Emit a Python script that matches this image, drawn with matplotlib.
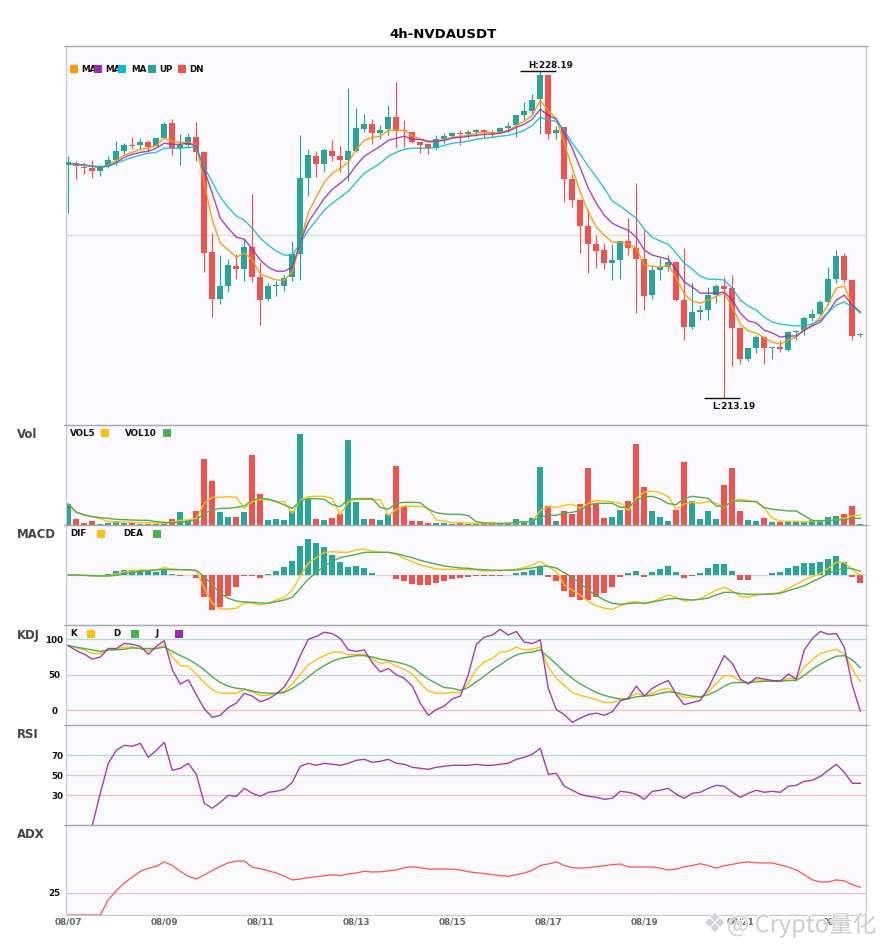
import matplotlib
matplotlib.use("Agg")
import matplotlib.pyplot as plt
import matplotlib.patheffects as pe
from matplotlib.patches import Rectangle
import numpy as np

title = "4h-NVDAUSDT"
date_labels = ["08/07","08/09","08/11","08/13","08/15","08/17","08/19","08/21","08/23"]

opens = [223.88,223.97,223.80,223.74,223.60,223.83,224.11,224.52,224.79,224.79,224.93,224.75,225.12,225.80,224.66,224.79,225.16,224.47,219.88,217.73,
218.32,219.24,219.10,220.11,218.74,217.73,218.32,218.32,218.74,219.79,223.28,224.29,223.92,224.52,224.29,224.11,224.52,225.53,225.76,225.35,
225.53,226.08,225.48,225.39,224.93,224.84,224.66,225.07,225.21,225.35,225.30,225.39,225.48,225.39,225.39,225.57,225.71,226.17,226.36,226.91,
228.01,225.35,225.62,223.23,222.27,221.08,220.25,219.98,219.38,219.52,220.39,220.07,219.56,217.91,219.06,219.19,219.42,217.68,216.44,217.13,
217.22,217.91,218.32,218.23,216.40,214.97,215.48,215.98,215.48,215.52,215.39,216.21,216.30,216.85,217.04,217.59,218.64,219.70,218.60,216.07]
closes = [224.01,223.83,223.77,223.60,223.74,224.11,224.52,224.79,224.75,224.93,224.70,225.12,225.76,224.66,224.79,225.16,224.47,219.84,217.73,218.32,
219.29,219.10,220.11,218.74,217.68,218.32,218.37,218.69,219.79,223.28,224.34,223.92,224.57,224.29,224.11,224.52,225.57,225.76,225.35,225.48,
226.08,225.48,225.44,224.93,224.79,224.66,225.07,225.21,225.35,225.30,225.39,225.48,225.39,225.35,225.57,225.67,226.17,226.36,226.86,228.01,
225.30,225.48,223.23,222.27,221.08,220.25,219.93,219.38,219.52,220.39,220.07,219.56,217.86,219.06,219.19,219.42,217.68,216.44,217.13,217.22,
217.91,218.32,218.18,216.40,214.97,215.48,215.98,215.48,215.52,215.43,216.21,216.26,216.85,217.04,217.59,218.64,219.70,218.60,216.03,216.12]
highs = [224.29,224.06,224.03,224.11,223.86,224.29,224.98,224.89,225.16,225.12,225.02,225.12,225.85,225.99,225.30,225.35,225.85,224.47,220.76,219.75,
219.56,219.79,220.48,222.55,219.42,218.46,218.55,218.83,220.39,225.25,224.61,224.52,224.66,225.02,224.75,227.41,226.49,226.22,225.99,225.71,
226.63,227.69,225.94,225.39,224.93,224.84,225.25,225.35,225.39,225.48,225.48,225.53,225.53,225.48,225.62,225.85,226.17,226.77,227.14,228.19,
228.01,225.67,225.62,223.46,222.27,221.81,220.66,220.30,220.25,220.39,221.44,223.05,220.89,219.24,219.61,219.75,219.47,220.07,218.51,217.45,
218.28,218.41,218.74,218.83,216.40,215.48,216.07,215.98,215.52,215.84,216.26,216.30,216.95,217.27,217.68,219.19,219.98,219.84,218.60,216.17]
lows = [221.69,223.23,223.46,223.28,223.37,223.74,223.88,224.34,224.61,224.61,224.52,224.75,225.12,224.34,223.88,224.66,224.06,218.97,216.90,217.50,
218.05,218.64,218.55,218.51,216.53,217.63,217.86,218.09,218.55,218.60,222.45,223.33,223.56,224.06,223.56,223.14,224.47,225.39,224.84,225.07,
225.25,224.66,224.70,224.89,224.43,224.38,224.57,224.89,225.12,224.79,225.12,225.21,225.12,225.16,225.35,225.39,225.16,225.94,226.17,225.30,
225.07,225.07,222.18,221.95,219.84,218.92,219.15,219.10,218.60,218.64,219.75,217.08,217.22,217.73,218.60,219.01,217.63,215.84,216.35,216.76,
216.76,217.54,213.19,214.65,214.74,214.88,215.25,214.74,214.97,215.29,215.34,215.84,216.07,216.72,216.99,217.45,218.46,218.46,215.84,215.98]

ma5 = [223.97,223.92,223.88,223.83,223.78,223.88,224.11,224.34,224.47,224.61,224.66,224.79,225.12,224.98,224.93,224.93,224.79,223.05,221.35,220.30,
219.98,219.65,219.84,219.52,218.87,218.74,218.60,218.60,218.97,220.30,221.72,222.41,223.10,223.51,223.74,224.01,224.61,225.02,225.16,225.21,
225.48,225.48,225.48,225.25,225.07,224.93,224.98,225.07,225.16,225.21,225.25,225.35,225.39,225.35,225.39,225.48,225.71,225.90,226.17,226.86,
226.36,226.03,224.89,223.74,222.64,221.72,221.03,220.66,220.34,220.34,220.25,220.07,219.29,219.24,219.19,219.29,218.69,217.96,217.63,217.54,
217.68,217.86,218.00,217.36,216.58,216.26,216.17,215.94,215.75,215.66,215.84,215.98,216.35,216.53,216.90,217.50,218.23,218.32,217.50,217.08]
ma10 = [223.97,223.92,223.88,223.83,223.78,223.83,224.01,224.24,224.38,224.47,224.52,224.66,224.89,224.84,224.84,224.89,224.75,223.65,222.59,221.44,
220.98,220.57,220.48,220.02,219.52,219.19,219.01,219.01,219.19,220.34,221.26,221.81,222.36,222.77,223.05,223.37,223.88,224.29,224.52,224.75,
225.02,225.12,225.21,225.07,225.07,224.98,224.98,225.02,225.12,225.16,225.21,225.25,225.30,225.30,225.35,225.44,225.62,225.76,225.99,226.45,
226.17,225.99,225.39,224.66,223.74,222.82,222.13,221.58,221.21,221.03,220.89,220.57,219.98,219.75,219.65,219.56,219.06,218.51,218.28,218.00,
218.00,218.00,218.05,217.68,217.08,216.72,216.63,216.30,216.17,215.98,216.03,216.03,216.30,216.49,216.67,217.13,217.68,217.91,217.45,217.13]
ma20 = [223.97,223.92,223.88,223.83,223.83,223.83,223.97,224.11,224.24,224.34,224.43,224.47,224.66,224.66,224.66,224.70,224.70,223.78,223.10,222.41,
221.95,221.54,221.35,220.98,220.53,220.20,219.93,219.75,219.75,220.30,220.89,221.35,221.81,222.13,222.41,222.68,223.10,223.51,223.74,223.97,
224.29,224.47,224.61,224.66,224.66,224.66,224.70,224.79,224.89,224.93,224.98,225.07,225.12,225.16,225.21,225.25,225.35,225.48,225.71,226.08,
225.94,225.90,225.48,224.89,224.38,223.83,223.33,222.82,222.23,222.00,221.72,221.44,220.94,220.57,220.39,220.25,219.84,219.38,219.10,218.78,
218.64,218.64,218.60,218.23,217.68,217.40,217.22,216.90,216.67,216.58,216.53,216.49,216.53,216.58,216.76,217.13,217.45,217.59,217.36,217.13]

volume = [63,18,6,12,3,6,12,6,5,4,4,3,6,18,39,15,42,198,132,39,24,24,39,210,93,15,18,15,42,273,78,18,15,21,33,255,69,18,18,15,33,177,57,12,12,6,6,
6,4,9,4,3,4,3,3,3,18,12,21,174,57,12,42,33,63,171,63,21,24,45,72,243,114,42,24,12,45,189,72,18,42,18,120,171,42,15,12,21,9,9,9,9,9,15,12,24,27,33,57,3]
vol5 = [63,40,30,25,19,10,9,9,8,7,7,6,5,9,14,15,20,65,83,83,85,83,50,70,77,75,70,70,35,75,85,86,86,80,30,70,77,77,77,75,28,47,57,56,56,50,15,
12,7,7,6,4,4,4,4,5,7,9,11,43,54,53,59,62,50,65,74,72,70,65,43,80,99,101,97,85,47,63,68,65,70,65,53,73,77,73,70,50,20,12,11,11,9,12,12,14,16,20,28,29]
vol10 = [63,38,30,25,22,20,17,16,15,14,14,10,8,7,8,11,15,35,45,50,50,53,57,75,80,78,70,60,50,72,79,79,77,61,55,77,79,79,79,53,47,65,68,68,67,47,37,
33,32,32,28,10,6,6,5,5,8,9,12,24,29,29,36,38,44,60,65,65,65,53,53,75,84,86,78,64,61,80,86,83,80,57,55,72,72,71,70,52,47,45,42,42,28,14,13,14,15,16,20,20]

macd_hist = [0,0,-1,-2,-3,3,11,14,14,15,12,9,16,3,-2,0,-9,-66,-105,-96,-63,-36,-3,-3,-9,3,12,24,42,87,108,96,84,60,39,24,27,21,6,0,0,-12,-18,-27,-30,-30,-24,
-18,-12,-9,-6,-3,-3,-3,-3,0,6,9,15,27,-6,-18,-48,-66,-75,-75,-66,-54,-36,-6,6,12,-6,9,18,27,9,-9,-3,6,21,33,33,12,-15,-15,0,0,6,9,21,27,36,36,39,48,57,39,-6,-24]
dif = [0,0,-1,-3,-3,-2,3,10,13,15,15,16,22,18,16,15,12,-40,-85,-102,-102,-100,-84,-84,-90,-84,-75,-67,-45,-3,35,52,68,70,68,68,75,78,72,68,68,62,50,40,30,24,18,
17,17,17,16,15,12,13,13,15,18,22,30,41,25,10,-30,-45,-60,-80,-92,-100,-103,-93,-82,-80,-88,-80,-70,-60,-68,-78,-75,-72,-58,-45,-37,-48,-64,-67,-60,-57,-56,-52,-40,-28,-15,-5,5,20,38,38,15,0]
dea = [0,0,-1,-2,-3,-3,-1,4,8,11,13,15,17,16,16,16,14,-5,-30,-55,-70,-78,-81,-82,-84,-85,-80,-75,-67,-40,-12,7,27,42,52,57,62,68,68,68,68,64,58,52,44,38,32,
27,24,21,20,17,16,14,14,14,15,18,21,26,26,21,7,-7,-25,-45,-62,-75,-85,-88,-86,-84,-84,-81,-76,-72,-70,-73,-75,-73,-69,-60,-52,-52,-56,-58,-58,-58,-57,-55,-47,-40,-32,-20,-9,4,14,21,19,11]

kdj_k = [91,88,85,80,80,86,86,89,89,87,84,87,92,75,63,62,51,39,29,24,24,24,29,26,21,21,24,27,37,51,64,71,77,82,82,78,79,79,72,66,68,62,58,51,38,27,24,
24,25,25,38,58,68,73,82,83,89,85,86,89,61,45,35,25,21,18,15,11,11,15,17,24,20,24,29,31,24,18,18,18,26,38,49,48,41,39,43,42,41,41,45,44,61,71,80,83,86,79,58,41]
kdj_d = [91,89,87,85,83,85,85,86,88,87,87,87,89,83,77,72,65,57,47,39,34,31,30,27,25,24,24,25,31,38,47,56,63,69,73,75,77,77,75,72,70,68,65,61,52,44,38,
32,31,28,32,40,48,57,64,72,78,81,82,85,75,65,54,45,37,31,25,21,18,16,16,19,20,21,24,26,25,22,20,19,22,27,34,39,39,39,40,41,41,41,42,42,49,58,65,71,76,77,71,60]
kdj_j = [91,84,79,72,75,87,87,94,93,90,79,90,98,57,37,43,22,2,-10,-7,4,10,24,20,12,16,23,33,51,77,100,104,110,108,101,85,83,85,67,54,59,50,45,34,10,-7,1,
6,16,20,50,93,103,106,114,106,111,96,94,99,31,1,-6,-17,-11,-6,-4,-7,-2,13,17,34,20,31,37,42,22,8,11,14,31,54,77,66,44,37,46,44,42,41,51,44,85,101,111,107,108,89,35,-1]

nan = float("nan")
rsi = [nan,nan,nan,0,32,62,75,80,79,82,68,75,83,55,57,62,51,22,17,23,30,29,37,32,29,33,34,36,43,59,62,60,62,61,60,62,65,66,63,64,66,62,61,58,57,56,58,
59,60,60,60,61,60,60,61,62,66,68,71,77,51,52,39,35,31,29,28,26,27,34,33,31,26,34,35,37,31,27,32,33,37,40,39,33,28,32,35,33,34,33,39,40,44,45,49,55,61,53,42,42]
adx = [0,0,0,0,0,17,27,35.6,42,48.5,52,54,59,55,48.5,43,40,44.5,49.6,54,58,60,60,53,51.5,49,46.7,43,39,40,41.5,42.6,43.7,44.8,43.7,45.6,46.7,48.5,47.8,48,49,50,52.6,53.7,52.6,51,51,
51,51,50,48,47,46,44.8,43.7,43,44.8,46.7,49.6,55,56.7,59,55,52.6,52,52.6,53.7,54.8,56,56.7,53.3,53.3,53.3,53.3,52,50,51,53.7,55,57,54.8,52,54.8,56.3,58,59,58,57.8,57.8,55.6,53.3,50,44.8,39,36.7,36.7,39,38,33.7,30.7]

UP = "#26a69a"; DN = "#ef5350"
C_MA5 = "#ff9800"; C_MA10 = "#9c27b0"; C_MA20 = "#00bcd4"
C_Y = "#ffc107"; C_G = "#4caf50"; C_P = "#9c27b0"
BG = "#fafafc"

plt.rcParams["font.family"] = "DejaVu Sans"
W, H = 885, 950
fig = plt.figure(figsize=(W/100, H/100), dpi=100, facecolor="white")

def make_ax(top, bottom):
    a = fig.add_axes([66/W, 1-bottom/H, 800/W, (bottom-top)/H])
    a.set_facecolor(BG)
    a.set_xlim(-0.2875, 99.7125)
    a.set_xticks([])
    a.set_yticks([])
    for s in a.spines.values():
        s.set_color("#c8c8d2"); s.set_linewidth(0.9)
    a.spines["top"].set_color("#a8a8b0")
    a.spines["bottom"].set_visible(False)
    a.plot([-0.003, 1.003], [1, 1], transform=a.transAxes, color="#a8a8b0", lw=0.9, clip_on=False, zorder=6)
    return a

def ftext(x, y, s, **kw):
    kw.setdefault("fontsize", 6.3); kw.setdefault("fontweight", "bold")
    kw.setdefault("color", "#111111"); kw.setdefault("va", "center"); kw.setdefault("zorder", 20)
    fig.text(x/W, 1-y/H, s, **kw)

def square(x, y, color):
    fig.add_artist(Rectangle((x/W, 1-(y+4)/H), 8/W, 8/H, transform=fig.transFigure, facecolor=color, edgecolor="none", zorder=21))

idx = np.arange(len(opens))
o, h, l, c = map(np.array, (opens, highs, lows, closes))
up = c >= o
cols = np.where(up, UP, DN)

# main
ax = make_ax(45.5, 425)
ax.spines["top"].set_color("#c8c8d2")
ax.set_ylim(211.94, 229.38)
ax.axhline((211.94+229.38)/2, color="#dcdce0", lw=0.9, zorder=1)
ax.vlines(idx, l, h, colors=cols, lw=0.85, zorder=2)
ax.bar(idx, np.abs(c-o), bottom=np.minimum(o, c), width=0.75, color=cols, linewidth=0, zorder=3)
ax.plot(idx, ma5, color=C_MA5, lw=1.0, zorder=4, alpha=0.95)
ax.plot(idx, ma10, color=C_MA10, lw=1.0, zorder=4, alpha=0.85)
ax.plot(idx, ma20, color=C_MA20, lw=1.0, zorder=4, alpha=0.85)
imax = int(np.argmax(h)); imin = int(np.argmin(l))
ax.hlines(h[imax], imax-2.5, imax+2, color="#111111", lw=1.0, zorder=5)
ax.hlines(l[imin], imin-2.5, imin+2, color="#111111", lw=1.0, zorder=5)
ax.text(imax-1.5, h[imax]+0.26, f"H:{h[imax]:.2f}", fontsize=6.3, fontweight="bold", color="#111111", va="center", ha="left")
ax.text(imin-1.5, l[imin]-0.4, f"L:{l[imin]:.2f}", fontsize=6.3, fontweight="bold", color="#111111", va="center", ha="left")

# volume
axv = make_ax(425, 525)
axv.set_ylim(0, 300)
axv.bar(idx, volume, width=0.75, color=cols, linewidth=0, zorder=2)
axv.plot(idx, vol5, color=C_Y, lw=1.0, zorder=3)
axv.plot(idx, vol10, color=C_G, lw=1.0, zorder=3)

# macd
axm = make_ax(525, 625)
axm.set_ylim(-150, 150)
axm.axhline(0, color="#d8d8dc", lw=0.9, zorder=1)
axm.bar(idx, macd_hist, width=0.75, color=[UP if v >= 0 else DN for v in macd_hist], linewidth=0, zorder=2)
axm.plot(idx, dif, color=C_Y, lw=1.0, zorder=3)
axm.plot(idx, dea, color=C_G, lw=1.0, zorder=3)

# kdj
axk = make_ax(625, 725)
axk.set_ylim(-20.7, 120.1)
axk.axhline(100, color="#a9dcd8", lw=0.9, zorder=1)
axk.axhline(50, color="#d0d0d4", lw=0.9, zorder=1)
axk.axhline(0, color="#f9b9b7", lw=0.9, zorder=1)
axk.plot(idx, kdj_k, color=C_Y, lw=1.0, zorder=3)
axk.plot(idx, kdj_d, color=C_G, lw=1.0, zorder=3)
axk.plot(idx, kdj_j, color=C_P, lw=1.0, zorder=4, alpha=0.9)

# rsi
axr = make_ax(725, 825)
axr.set_ylim(0.3, 100.3)
axr.axhline(70, color="#a9dcd8", lw=0.9, zorder=1)
axr.axhline(50, color="#d0d0d4", lw=0.9, zorder=1)
axr.axhline(30, color="#f9b9b7", lw=0.9, zorder=1)
axr.plot(idx, rsi, color=C_P, lw=1.0, zorder=3, alpha=0.9)

# adx
axa = make_ax(825, 915)
axa.set_ylim(0, 100)
axa.axhline(25, color="#e1bee7", lw=0.9, zorder=1)
axa.plot(idx, adx, color="#ff5252", lw=0.9, zorder=3)
axa.spines["bottom"].set_visible(True); axa.spines["bottom"].set_color("#c8c8d2")
axa.set_xticks(np.arange(len(date_labels))*12)
axa.set_xticklabels(date_labels, fontsize=6.4, fontweight="bold", color="#666666")
axa.tick_params(axis="x", length=0, pad=1.5)

def yticks(a, vals, pad):
    a.set_yticks(vals)
    a.set_yticklabels([str(v) for v in vals], fontsize=6.3, fontweight="bold", color="#111111", ha="center")
    a.tick_params(axis="y", length=0, pad=pad)

yticks(axk, [0, 50, 100], 8.5)
yticks(axr, [30, 50, 70], 6)
yticks(axa, [25], 8.5)

# texts
ftext(443, 34.5, title, fontsize=9.5, ha="center", color="#000000")
for y, s in ((435, "Vol"), (535, "MACD"), (635, "KDJ"), (735, "RSI"), (835, "ADX")):
    ftext(17, y, s, fontsize=8.4, color="#444444")

for x, s in ((81, "MA"), (105, "MA"), (131, "MA"), (159, "UP"), (189, "DN")):
    ftext(x, 69.2, s)
for x, col in ((70, C_MA5), (94, C_MA10), (118, C_MA20), (148, UP), (178, DN)):
    square(x, 69, col)

for x, y, s, sx, col in ((70, 433.5, "VOL5", 101, C_Y), (125, 433.5, "VOL10", 163, C_G),
                         (70, 534, "DIF", 97, C_Y), (123, 534, "DEA", 153, C_G),
                         (70, 634, "K", 87, C_Y), (113, 634, "D", 131, C_G), (156, 634, "J", 175, C_P)):
    ftext(x, y, s)
    square(sx, y-0.5, col)

# watermark
stroke = [pe.withStroke(linewidth=1.5, foreground="white", alpha=0.8)]
fig.text(703/W, 1-925/H, "❖", fontsize=19, color="#d2d2d6", va="center", ha="left", zorder=30, path_effects=stroke)
fig.text(727/W, 1-925/H, "@ Crypto量化", fontsize=17, color="#cfcfd3", va="center", ha="left", zorder=30,
         family=["Noto Sans CJK SC", "DejaVu Sans"], path_effects=stroke)

fig.savefig("out.png", dpi=100, facecolor="white")
